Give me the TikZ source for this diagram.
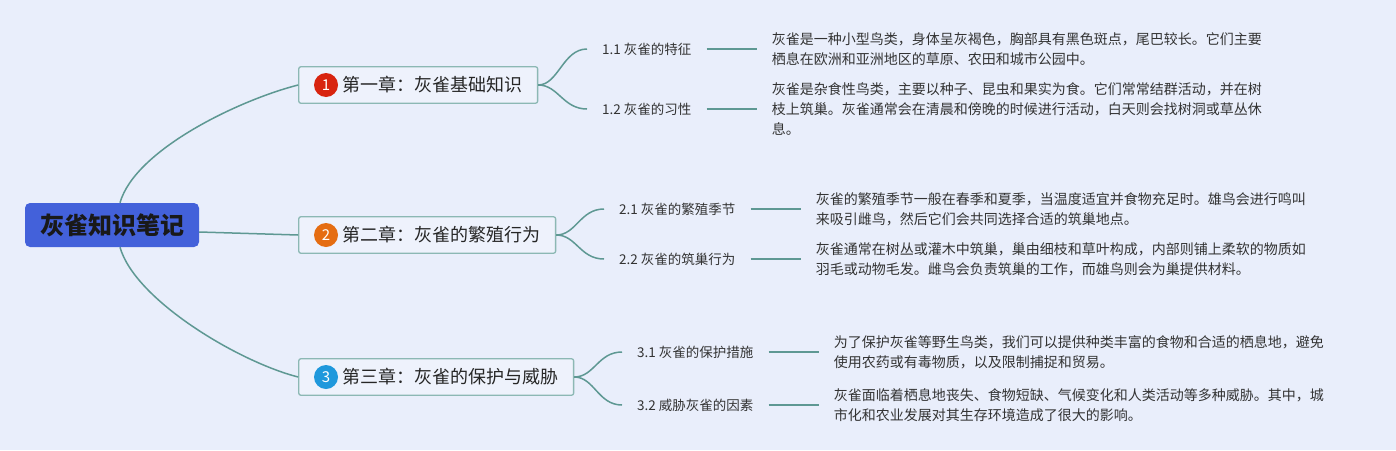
\documentclass[tikz,border=0pt]{standalone}
\usepackage{fontspec}
\setmainfont{Noto Sans CJK SC}
\usepackage{xcolor}
\usetikzlibrary{positioning,fit,backgrounds}
\definecolor{bgcol}{HTML}{E9EEFB}
\definecolor{linecol}{HTML}{5E9893}
\definecolor{boxline}{HTML}{8CB8B4}
\definecolor{boxfill}{HTML}{EEF2FC}
\definecolor{rootblue}{HTML}{4361DA}
\definecolor{numred}{HTML}{D8240F}
\definecolor{numorange}{HTML}{E56D12}
\definecolor{numblue}{HTML}{1F98DC}
\definecolor{txtgray}{HTML}{333333}

\begin{document}
\begin{tikzpicture}[x=1pt, y=-1pt,
    rootbox/.style={fill=rootblue, rounded corners=5pt, minimum width=174pt, minimum height=44pt,
        font=\fontsize{24}{24}\selectfont\bfseries, text=black!90},
    chapbox/.style={draw=boxline, fill=boxfill, line width=1.3pt, rounded corners=2pt,
        inner xsep=15pt, inner ysep=6pt},
    chaptxt/.style={inner sep=0pt, font=\fontsize{18}{18}\selectfont, text=black!85},
    numdot/.style={circle, minimum size=24pt, inner sep=0pt, text=white,
        font=\fontsize{15}{15}\selectfont},
    sublab/.style={anchor=west, inner xsep=15pt, inner ysep=2pt,
        font=\fontsize{13.5}{16}\selectfont, text=txtgray},
    body/.style={align=left, inner xsep=15pt, inner ysep=2pt,
        font=\fontsize{14}{20}\selectfont, text=txtgray},
    branch/.style={draw=linecol, line width=1.5pt}]

    \useasboundingbox (0,0) rectangle (1396,450);
    \begin{scope}[on background layer]
        \fill[bgcol] (0,0) rectangle (1396,450);
    \end{scope}

    % Root
    \node[rootbox] (root) at (112,225) {灰雀知识笔记};

    % Chapters
    \node[numdot, fill=numred] (n1) at (326,85) {1};
    \node[chaptxt, right=4pt of n1] (t1) {第一章：灰雀基础知识};
    \node[numdot, fill=numorange] (n2) at (326,235) {2};
    \node[chaptxt, right=4pt of n2] (t2) {第二章：灰雀的繁殖行为};
    \node[numdot, fill=numblue] (n3) at (326,377) {3};
    \node[chaptxt, right=4pt of n3] (t3) {第三章：灰雀的保护与威胁};
    \begin{scope}[on background layer]
        \node[chapbox, fit=(n1)(t1)] (ch1) {};
        \node[chapbox, fit=(n2)(t2)] (ch2) {};
        \node[chapbox, fit=(n3)(t3)] (ch3) {};
    \end{scope}

    % Sections
    \node[sublab] (s11) at (587,49) {1.1 灰雀的特征};
    \node[sublab] (s12) at (587,109) {1.2 灰雀的习性};
    \node[sublab] (s21) at (604,209) {2.1 灰雀的繁殖季节};
    \node[sublab] (s22) at (604,259) {2.2 灰雀的筑巢行为};
    \node[sublab] (s31) at (622,352) {3.1 灰雀的保护措施};
    \node[sublab] (s32) at (622,405) {3.2 威胁灰雀的因素};

    % Notes
    \node[body, right=50pt of s11] (b11) {灰雀是一种小型鸟类，身体呈灰褐色，胸部具有黑色斑点，尾巴较长。它们主要\\栖息在欧洲和亚洲地区的草原、农田和城市公园中。};
    \node[body, right=50pt of s12] (b12) {灰雀是杂食性鸟类，主要以种子、昆虫和果实为食。它们常常结群活动，并在树\\枝上筑巢。灰雀通常会在清晨和傍晚的时候进行活动，白天则会找树洞或草丛休\\息。};
    \node[body, right=50pt of s21] (b21) {灰雀的繁殖季节一般在春季和夏季，当温度适宜并食物充足时。雄鸟会进行鸣叫\\来吸引雌鸟，然后它们会共同选择合适的筑巢地点。};
    \node[body, right=50pt of s22] (b22) {灰雀通常在树丛或灌木中筑巢，巢由细枝和草叶构成，内部则铺上柔软的物质如\\羽毛或动物毛发。雌鸟会负责筑巢的工作，而雄鸟则会为巢提供材料。};
    \node[body, right=50pt of s31] (b31) {为了保护灰雀等野生鸟类，我们可以提供种类丰富的食物和合适的栖息地，避免\\使用农药或有毒物质，以及限制捕捉和贸易。};
    \node[body, right=50pt of s32] (b32) {灰雀面临着栖息地丧失、食物短缺、气候变化和人类活动等多种威胁。其中，城\\市化和农业发展对其生存环境造成了很大的影响。};

    % Connectors
    \draw[branch] ([xshift=8pt]root.north) .. controls +(15,-53) and +(-59,15) .. (ch1.west);
    \draw[branch] ([yshift=-7pt]root.east) -- (ch2.west);
    \draw[branch] ([xshift=8pt]root.south) .. controls +(15,53) and +(-59,-15) .. (ch3.west);

    \draw[branch] (ch1.east) .. controls +(20,0) and +(-24,0) .. (s11.west);
    \draw[branch] (ch1.east) .. controls +(20,0) and +(-24,0) .. (s12.west);
    \draw[branch] (ch2.east) .. controls +(20,0) and +(-24,0) .. (s21.west);
    \draw[branch] (ch2.east) .. controls +(20,0) and +(-24,0) .. (s22.west);
    \draw[branch] (ch3.east) .. controls +(20,0) and +(-24,0) .. (s31.west);
    \draw[branch] (ch3.east) .. controls +(20,0) and +(-24,0) .. (s32.west);

    \draw[branch] (s11) -- (b11);
    \draw[branch] (s12) -- (b12);
    \draw[branch] (s21) -- (b21);
    \draw[branch] (s22) -- (b22);
    \draw[branch] (s31) -- (b31);
    \draw[branch] (s32) -- (b32);
\end{tikzpicture}
\end{document}
